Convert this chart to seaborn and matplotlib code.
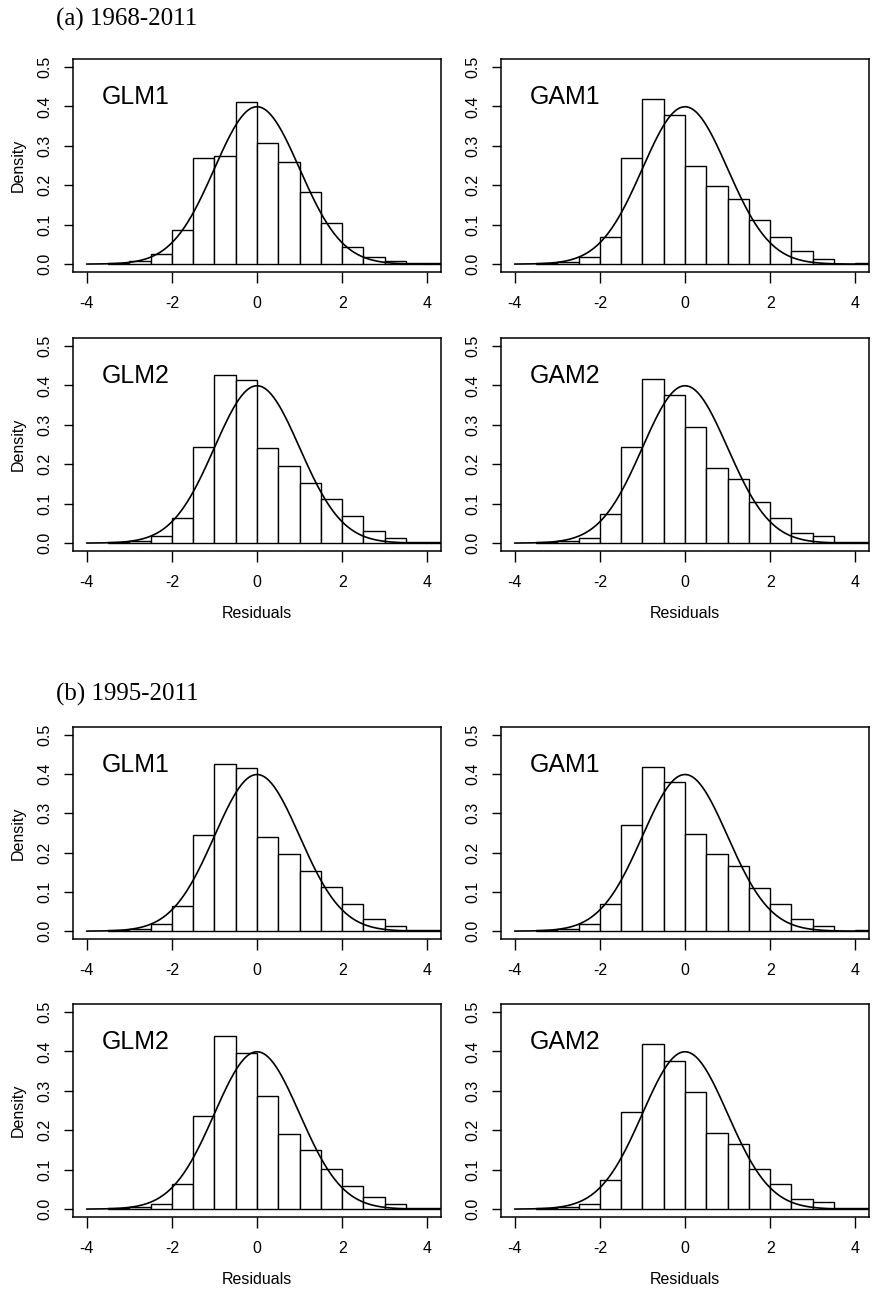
import numpy as np
import pandas as pd
import seaborn as sns
from matplotlib import pyplot as plt

# bin edges of the residual histograms (width 0.5)
edges = [-3.5, -3.0, -2.5, -2.0, -1.5, -1.0, -0.5, 0.0, 0.5, 1.0, 1.5, 2.0, 2.5, 3.0, 3.5, 4.0, 4.5]

# densities per bin
glm1_a = [0.003, 0.007, 0.026, 0.087, 0.270, 0.274, 0.411, 0.308, 0.259, 0.184, 0.104, 0.043, 0.017, 0.008, 0.004, 0.004]
gam1_a = [0.002, 0.006, 0.017, 0.069, 0.270, 0.418, 0.379, 0.248, 0.197, 0.166, 0.112, 0.069, 0.032, 0.014, 0.001, 0.004]
glm2_a = [0.003, 0.005, 0.018, 0.064, 0.244, 0.426, 0.414, 0.240, 0.196, 0.153, 0.111, 0.068, 0.031, 0.013, 0.003, 0.003]
gam2_a = [0.003, 0.005, 0.013, 0.075, 0.244, 0.417, 0.375, 0.295, 0.191, 0.162, 0.103, 0.064, 0.026, 0.018, 0.002, 0.004]

glm1_b = [0.003, 0.005, 0.018, 0.064, 0.246, 0.427, 0.415, 0.239, 0.197, 0.154, 0.112, 0.068, 0.031, 0.013, 0.003, 0.003]
gam1_b = [0.002, 0.006, 0.017, 0.069, 0.270, 0.418, 0.380, 0.247, 0.196, 0.166, 0.111, 0.068, 0.031, 0.013, 0.001, 0.004]
glm2_b = [0.003, 0.005, 0.012, 0.064, 0.235, 0.440, 0.397, 0.286, 0.191, 0.150, 0.102, 0.059, 0.030, 0.012, 0.003, 0.003]
gam2_b = [0.003, 0.005, 0.012, 0.074, 0.245, 0.419, 0.376, 0.297, 0.192, 0.164, 0.102, 0.063, 0.026, 0.017, 0.002, 0.004]

# reference normal curve
norm_mean, norm_sd = 0.0, 1.0
xticks = [-4, -2, 0, 2, 4]
yticks = [0.0, 0.1, 0.2, 0.3, 0.4, 0.5]

sns.set_style('ticks')
plt.rcParams['font.family'] = ['Liberation Sans', 'DejaVu Sans']
plt.rcParams.update({'text.color': 'black', 'axes.labelcolor': 'black', 'axes.edgecolor': 'black',
                     'xtick.color': 'black', 'ytick.color': 'black'})

W, H = 874, 1289
fig = plt.figure(figsize=(W / 100, H / 100), dpi=100)

# (label, heights, left px, top px, bottom px, first column?, bottom row?)
panels = [
    ('GLM1', glm1_a, 73, 59, 272, True, False),
    ('GAM1', gam1_a, 501, 59, 272, False, False),
    ('GLM2', glm2_a, 73, 338, 551, True, True),
    ('GAM2', gam2_a, 501, 338, 551, False, True),
    ('GLM1', glm1_b, 73, 727, 939, True, False),
    ('GAM1', gam1_b, 501, 727, 939, False, False),
    ('GLM2', glm2_b, 73, 1004, 1217, True, True),
    ('GAM2', gam2_b, 501, 1004, 1217, False, True),
]

centers = [(a + b) / 2 for a, b in zip(edges[:-1], edges[1:])]
xs = np.linspace(-4, 4, 400)
curve = np.exp(-0.5 * ((xs - norm_mean) / norm_sd) ** 2) / (norm_sd * np.sqrt(2 * np.pi))

for name, heights, left, top, bottom, first_col, last_row in panels:
    ax = fig.add_axes([left / W, 1 - bottom / H, 368 / W, (bottom - top) / H])
    df = pd.DataFrame({'x': centers, 'h': heights})
    sns.histplot(data=df, x='x', weights='h', bins=edges, stat='count',
                 color='white', edgecolor='black', linewidth=1.0, alpha=1, ax=ax)
    sns.lineplot(x=xs, y=curve, color='black', linewidth=1.2, ax=ax)
    ax.set_xlim(-4.32, 4.32)
    ax.set_ylim(-0.02, 0.52)
    ax.set_xticks(xticks)
    ax.set_xticklabels([str(t) for t in xticks])
    ax.set_yticks(yticks)
    ax.set_yticklabels(['%.1f' % t for t in yticks])
    for s in ax.spines.values():
        s.set_linewidth(1.1)
    ax.tick_params(axis='x', direction='out', length=8, width=1, pad=9, labelsize=11.5)
    ax.tick_params(axis='y', direction='out', length=6.5, width=1, pad=8, labelsize=11.5, labelrotation=90)
    for lab in ax.get_yticklabels():
        lab.set_va('center')
    ax.set_ylabel('Density' if first_col else '', fontsize=11.5, labelpad=9)
    ax.set_xlabel('Residuals' if last_row else '', fontsize=11.5, labelpad=12)
    ax.text(-3.65, 0.405, name, fontsize=18, ha='left', va='baseline')

fig.text(56 / W, 1 - 26 / H, '(a) 1968-2011', fontsize=18, family=['Liberation Serif', 'DejaVu Serif'],
         ha='left', va='baseline')
fig.text(56 / W, 1 - 701 / H, '(b) 1995-2011', fontsize=18, family=['Liberation Serif', 'DejaVu Serif'],
         ha='left', va='baseline')

fig.savefig('out.png', dpi=100)
